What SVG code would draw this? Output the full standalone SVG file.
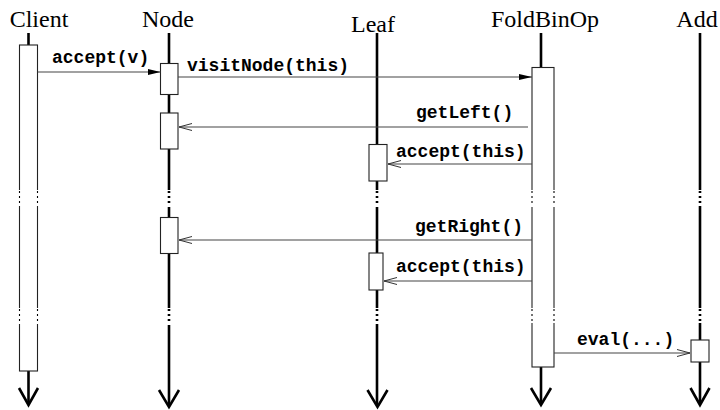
<svg xmlns="http://www.w3.org/2000/svg" width="720" height="410" viewBox="0 0 720 410">
<style>
.name{font-family:"Liberation Serif","Times New Roman",serif;font-size:24px;fill:#000;text-anchor:middle}
.msg{font-family:"Liberation Mono","Courier New",monospace;font-size:18px;font-weight:bold;fill:#000}
.life{stroke:#000;stroke-width:2.6;fill:none}
.box{fill:#fff;stroke:#222;stroke-width:1.1}
.call{stroke:#444;stroke-width:1.1;fill:none}
.end{stroke:#000;stroke-width:2.6;fill:none;stroke-linejoin:miter}
.gap{fill:#fff;stroke:none}
.dots{stroke:#000;stroke-width:1.1;stroke-dasharray:2 3;fill:none}
.dotsT{stroke:#000;stroke-width:2.6;stroke-dasharray:2 3;fill:none}
</style>
<defs>
<marker id="filled" markerWidth="14" markerHeight="8" refX="13" refY="4" orient="auto" markerUnits="userSpaceOnUse">
<path d="M0,1 L13,4 L0,7 Z" fill="#000"/>
</marker>
<marker id="open" markerWidth="14" markerHeight="9" refX="13" refY="4.5" orient="auto" markerUnits="userSpaceOnUse">
<path d="M0,1 L13,4.5 L0,8" fill="none" stroke="#333" stroke-width="1"/>
</marker>
</defs>
<rect width="720" height="410" fill="#fff"/>

<g id="client">
<text class="name" x="39" y="27">Client</text>
<line class="life" x1="28.5" y1="33" x2="28.5" y2="404"/>
<path class="end" d="M19,388 L28.5,405 L38,388"/>
<rect class="box" x="19.5" y="45" width="18" height="326"/>
<rect class="gap" x="18" y="190" width="21" height="16"/>
<rect class="gap" x="18" y="308" width="21" height="16"/>
<path class="dots" d="M19.5,191 V205 M37.5,191 V205 M19.5,309 V323 M37.5,309 V323"/>
</g>

<g id="node">
<text class="name" x="168" y="27">Node</text>
<line class="life" x1="169" y1="33" x2="169" y2="405"/>
<path class="end" d="M159,390 L169,407 L179,390"/>
<rect class="gap" x="164" y="190" width="10" height="17"/>
<rect class="gap" x="164" y="308" width="10" height="17"/>
<path class="dotsT" d="M169,191 V206 M169,309 V324"/>
<rect class="box" x="160.5" y="63.5" width="17.5" height="31"/>
<rect class="box" x="160.5" y="113" width="17.5" height="36"/>
<rect class="box" x="160.5" y="217.5" width="17.5" height="36"/>
</g>

<g id="leaf">
<text class="name" x="373" y="32">Leaf</text>
<line class="life" x1="377" y1="33" x2="377" y2="405"/>
<path class="end" d="M367.5,390 L377.5,407 L387.5,390"/>
<rect class="gap" x="372" y="190" width="10" height="17"/>
<rect class="gap" x="372" y="308" width="10" height="16"/>
<path class="dotsT" d="M377,191 V206 M377,309 V323"/>
<rect class="box" x="369" y="144.5" width="18" height="36.5"/>
<rect class="box" x="369" y="253" width="14" height="37"/>
</g>

<g id="foldbinop">
<text class="name" x="545" y="27">FoldBinOp</text>
<line class="life" x1="541" y1="33" x2="541" y2="404"/>
<path class="end" d="M531,388 L541,405 L551,388"/>
<rect class="box" x="532" y="67.5" width="22" height="299.5"/>
<rect class="gap" x="530" y="190" width="26" height="17"/>
<rect class="gap" x="530" y="308" width="26" height="15"/>
<path class="dots" d="M532,191 V206 M554,191 V206 M532,309 V322 M554,309 V322"/>
</g>

<g id="add">
<text class="name" x="697" y="27">Add</text>
<line class="life" x1="700" y1="33" x2="700" y2="404"/>
<path class="end" d="M690.5,388 L700,405 L709.5,388"/>
<rect class="gap" x="695" y="190" width="10" height="16"/>
<rect class="gap" x="695" y="308" width="10" height="15"/>
<path class="dotsT" d="M700,191 V205 M700,309 V322"/>
<rect class="box" x="691" y="340" width="18" height="22"/>
</g>

<g id="connectors">
<line class="call" x1="37.5" y1="72" x2="160.5" y2="72" marker-end="url(#filled)"/>
<text class="msg" x="52" y="63">accept(v)</text>
<line class="call" x1="178" y1="77" x2="532" y2="77" marker-end="url(#filled)"/>
<text class="msg" x="187" y="71">visitNode(this)</text>
<line class="call" x1="528" y1="127" x2="179" y2="127" marker-end="url(#open)"/>
<text class="msg" x="416" y="118">getLeft()</text>
<line class="call" x1="532" y1="164" x2="388" y2="164" marker-end="url(#open)"/>
<text class="msg" x="396" y="157">accept(this)</text>
<line class="call" x1="532" y1="240" x2="179" y2="240" marker-end="url(#open)"/>
<text class="msg" x="415" y="232">getRight()</text>
<line class="call" x1="532" y1="281" x2="384" y2="281" marker-end="url(#open)"/>
<text class="msg" x="396" y="272">accept(this)</text>
<line class="call" x1="554" y1="353" x2="690" y2="353" marker-end="url(#open)"/>
<text class="msg" x="577" y="345">eval(...)</text>
</g>
</svg>
